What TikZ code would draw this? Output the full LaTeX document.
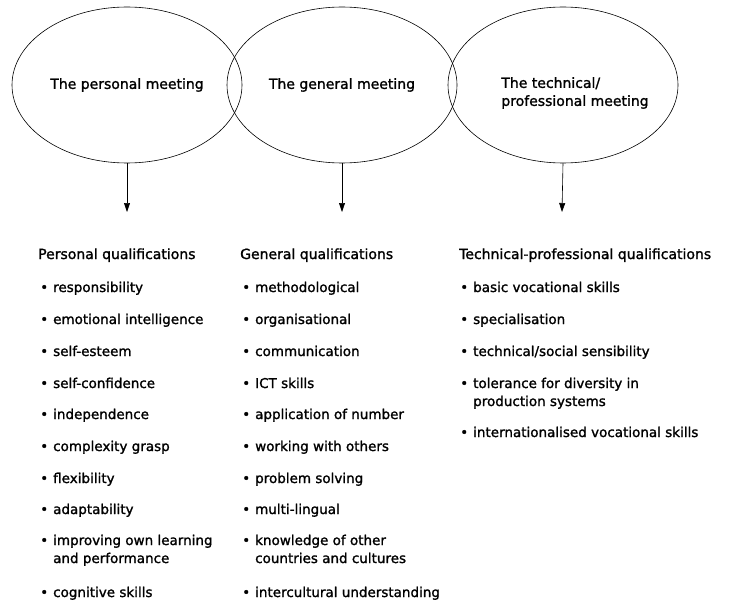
\documentclass[tikz,border=0pt]{standalone}
\usepackage{fontspec}
\setmainfont{DejaVu Sans}[FakeBold=1.4]
\usetikzlibrary{shapes.geometric, arrows.meta, positioning}

\tikzset{
  meeting/.style={draw, line width=0.6pt, ellipse, minimum width=230pt, minimum height=156pt, inner sep=0pt, font=\fontsize{14}{18}\selectfont},
  flow/.style={-{Triangle[length=9pt,width=6pt]}, line width=0.6pt},
  qhead/.style={anchor=base west, inner sep=0pt, font=\fontsize{14}{18}\selectfont},
  qitem/.style={anchor=base west, inner sep=0pt},
}
% bullet hanging left of the item, item lines in a top-aligned column
\newcommand{\itm}[1]{\llap{\textbullet\hspace{5pt}}\begin{tabular}[t]{@{}l@{}}#1\end{tabular}}

\begin{document}
\begin{tikzpicture}[x=1pt, y=-1pt, font=\fontsize{13.5}{18}\selectfont]
  % page frame
  \useasboundingbox (0,0) rectangle (730,599);

  % three meetings
  \node[meeting] (e1) at (127,85) {The personal meeting};
  \node[meeting] (e2) at (342,85) {The general meeting};
  \node[meeting, label={[name=e3t, align=left, xshift=12pt, yshift=-8pt, font=\fontsize{14}{18}\selectfont]center:The technical/\\professional meeting}] (e3) at (563,85) {};

  % arrows down to the lists
  \coordinate (a1) at (127,212);
  \coordinate (a2) at (342,212);
  \coordinate (a3) at (562,212);
  \draw[flow] (e1.south) -- (a1);
  \draw[flow] (e2.south) -- (a2);
  \draw[flow] (e3.south) -- (a3);

  % personal qualifications
  \node[qhead] (ph) at (38,259) {Personal qualifications};
  \foreach \n/\y/\t in {1/292/responsibility, 2/324/emotional intelligence,
      3/356/self-esteem, 4/388/self-confidence, 5/419/independence,
      6/451/complexity grasp, 7/483/flexibility, 8/514/adaptability,
      9/545/{improving own learning\\and performance}, 10/597/cognitive skills}
    \node[qitem] (p\n) at (53,\y) {\itm{\t}};

  % general qualifications
  \node[qhead] (gh) at (240,259) {General qualifications};
  \foreach \n/\y/\t in {1/292/methodological, 2/324/organisational,
      3/356/communication, 4/388/ICT skills, 5/419/application of number,
      6/451/working with others, 7/483/problem solving, 8/514/multi-lingual,
      9/545/{knowledge of other\\countries and cultures}, 10/597/intercultural understanding}
    \node[qitem] (g\n) at (255,\y) {\itm{\t}};

  % technical-professional qualifications
  \node[qhead] (th) at (459,259) {Technical-professional qualifications};
  \foreach \n/\y/\t in {1/292/basic vocational skills, 2/324/specialisation,
      3/356/{technical/social sensibility},
      4/388/{tolerance for diversity in\\production systems},
      5/437/internationalised vocational skills}
    \node[qitem] (t\n) at (473,\y) {\itm{\t}};
\end{tikzpicture}
\end{document}
